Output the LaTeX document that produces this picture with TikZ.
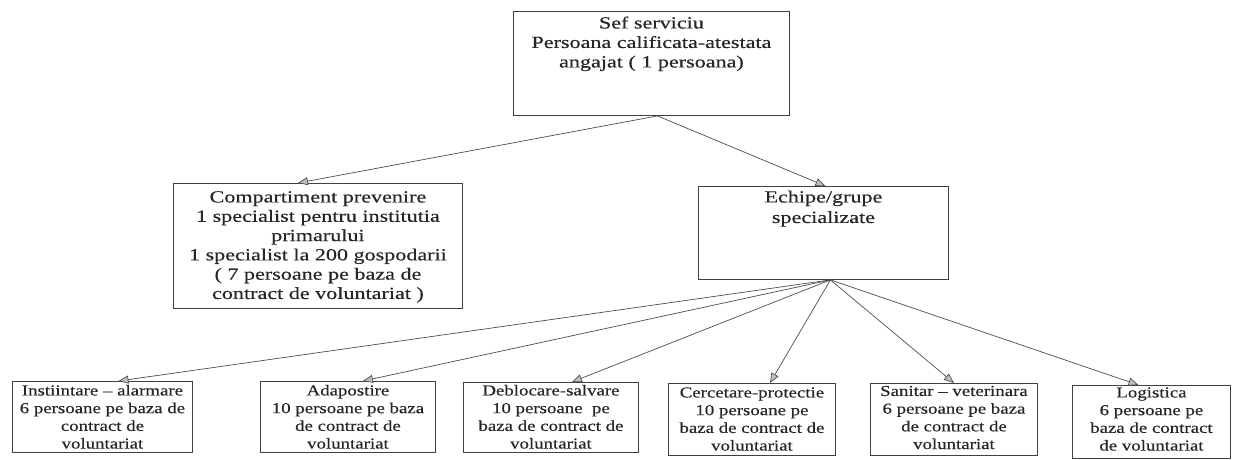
\documentclass[tikz,border=0pt]{standalone}
\usepackage{fontspec}
\setmainfont{Liberation Serif}
\newfontfamily\scanfont[FakeBold=0.4,Ligatures=TeX]{Liberation Serif}
\usepackage{graphicx}
\usetikzlibrary{arrows.meta}
\newcommand\boxtext[7]{%
  \parbox[c][#2][t]{#1}{\centering\scalebox{#7}[1]{\parbox[t]{\dimexpr #1*100/\numexpr\fpeval{round(#7*100)}\relax\relax}{\centering\scanfont\fontsize{#4}{#5}\selectfont\rule{0pt}{#3}#6}}}}
\tikzset{
  box/.style={draw=black!75, line width=0.9pt, inner sep=0pt, anchor=north west, text=black!85},
  link/.style={draw=black!70, line width=0.7pt, -{Triangle[length=10pt,width=8pt,fill=black!25]}},
}
\begin{document}
\begin{tikzpicture}[x=1pt,y=-1pt]
\useasboundingbox (0,0) rectangle (1233,459);
\node[box] (top) at (513,11) {\boxtext{276pt}{104pt}{17pt}{17}{19.5}{Sef serviciu\\Persoana calificata-atestata\\angajat ( 1 persoana)}{1.3}};
\node[box] (comp) at (173,183) {\boxtext{289pt}{125pt}{19pt}{17}{19.3}{Compartiment prevenire\\1 specialist pentru institutia\\primarului\\1 specialist la 200 gospodarii\\( 7 persoane pe baza de\\contract de voluntariat )}{1.3}};
\node[box] (ech) at (698,186) {\boxtext{250pt}{93pt}{16pt}{17}{20.5}{Echipe/grupe\\specializate}{1.3}};
\node[box] (b1) at (12,381) {\boxtext{180pt}{71pt}{14pt}{15.2}{17.7}{Instiintare – alarmare\\6 persoane pe baza de\\contract de\\voluntariat}{1.24}};
\node[box] (b2) at (260,381) {\boxtext{175pt}{71pt}{14pt}{15.2}{17.7}{Adapostire\\10 persoane pe baza\\de contract de\\voluntariat}{1.24}};
\node[box] (b3) at (463,382) {\boxtext{175pt}{70pt}{13pt}{15.2}{17.7}{Deblocare-salvare\\10 persoane\ \ pe\\baza de contract de\\voluntariat}{1.24}};
\node[box] (b4) at (668,383) {\boxtext{167pt}{72pt}{14pt}{15.2}{17.7}{Cercetare-protectie\\10 persoane pe\\baza de contract de\\voluntariat}{1.24}};
\node[box] (b5) at (870,383) {\boxtext{167pt}{72pt}{12.5pt}{15.2}{17.7}{Sanitar – veterinara\\6 persoane pe baza\\de contract de\\voluntariat}{1.24}};
\node[box] (b6) at (1072,385) {\boxtext{158pt}{73pt}{12pt}{15.2}{17.7}{Logistica\\6 persoane pe\\baza de contract\\de voluntariat}{1.24}};
\coordinate (ts) at ([xshift=6pt]top.south);
\coordinate (es) at ([xshift=7pt]ech.south);
\draw[link] (ts) -- ([xshift=-20pt]comp.north);
\draw[link] (ts) -- ([xshift=2pt]ech.north);
\draw[link] (es) -- ([xshift=16pt]b1.north);
\draw[link] (es) -- ([xshift=15pt]b2.north);
\draw[link] (es) -- ([xshift=21pt]b3.north);
\draw[link] (es) -- ([xshift=18pt]b4.north);
\draw[link] (es) -- (b5.north);
\draw[link] (es) -- ([xshift=-13pt]b6.north);
\end{tikzpicture}
\end{document}
